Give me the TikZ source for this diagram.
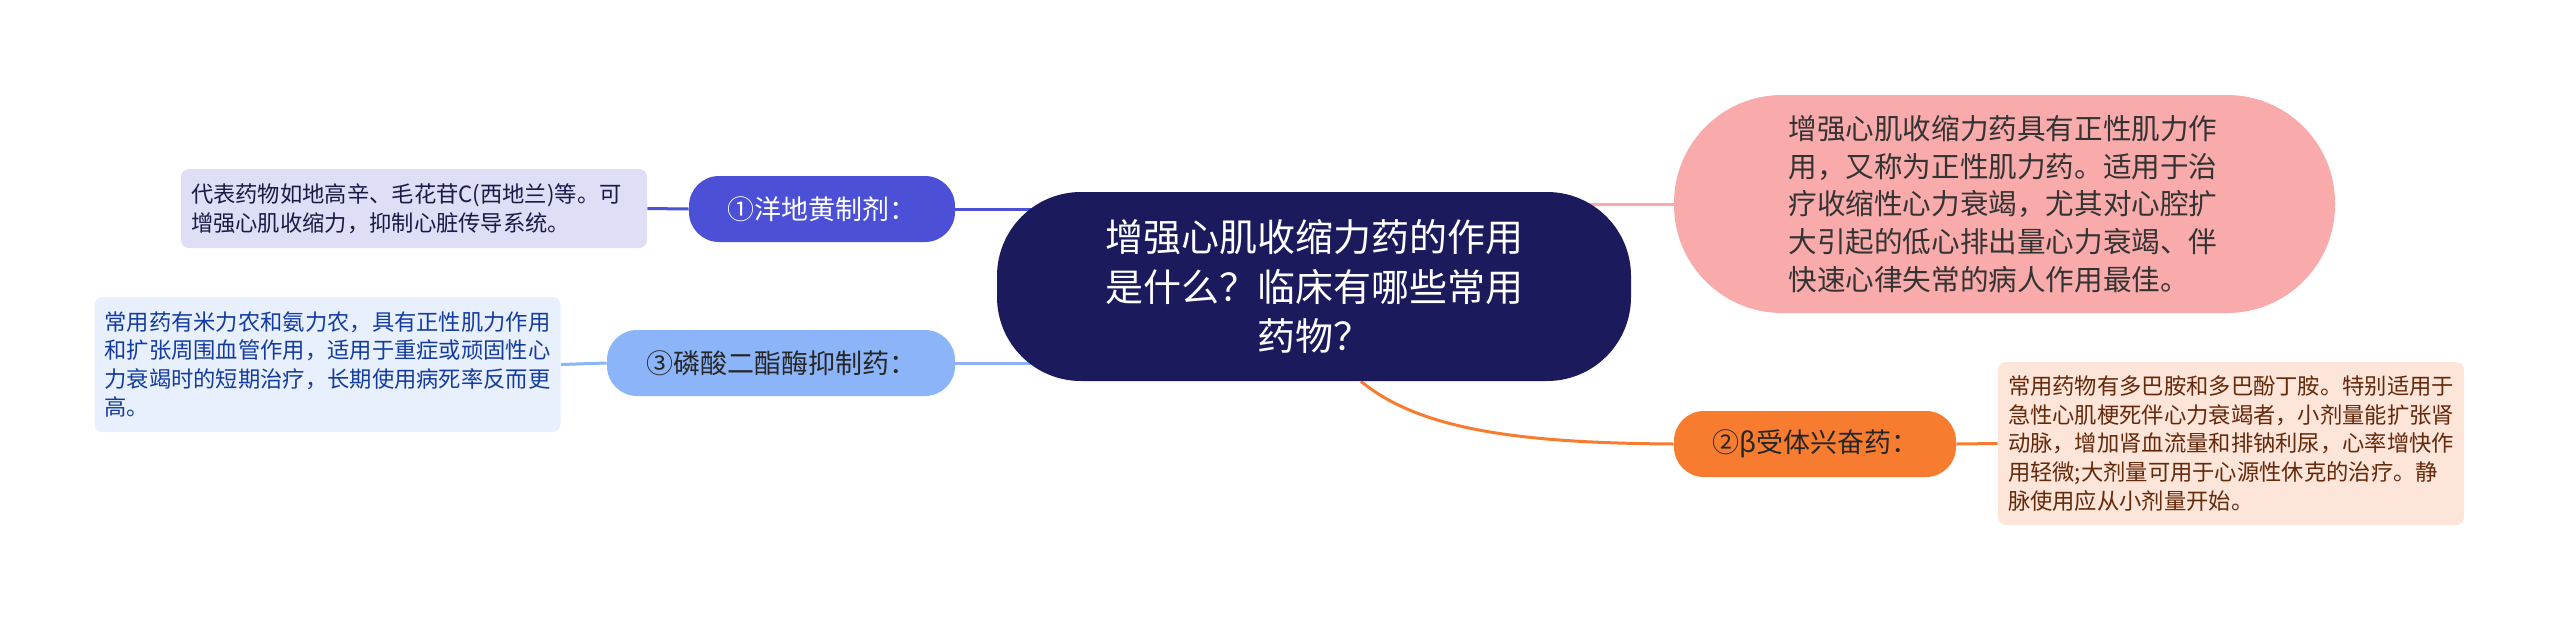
\documentclass[tikz,border=0pt]{standalone}
\usepackage{fontspec}
\setmainfont{Noto Sans CJK SC}
\usetikzlibrary{backgrounds}
\definecolor{hubc}{RGB}{27,26,92}
\definecolor{ansc}{RGB}{249,170,170}
\definecolor{onec}{RGB}{75,80,214}
\definecolor{onel}{RGB}{222,222,247}
\definecolor{twoc}{RGB}{247,124,48}
\definecolor{twol}{RGB}{253,229,217}
\definecolor{thrc}{RGB}{140,180,248}
\definecolor{thrl}{RGB}{232,240,253}
\definecolor{inkone}{RGB}{26,26,70}
\definecolor{inktwo}{RGB}{100,40,10}
\definecolor{inkthr}{RGB}{20,60,160}
\tikzset{hub/.style = {fill=hubc, text=white, rounded corners=42pt, minimum width=317pt,
        minimum height=94.5pt, align=center, font=\fontsize{19pt}{24.75pt}\selectfont},
    ans/.style = {fill=ansc, text=black!80, rounded corners=54pt, minimum width=330.5pt,
        minimum height=109pt, text width=216pt, align=left, font=\fontsize{14.3pt}{18.85pt}\selectfont},
    top/.style = {rounded corners=15pt, minimum height=33pt, inner sep=0pt,
        font=\fontsize{13.5pt}{16pt}\selectfont},
    leaf/.style = {rounded corners=4pt, text width=223pt, inner xsep=5pt, inner ysep=0pt,
        align=left, font=\fontsize{11.15pt}{14.3pt}\selectfont},
    link/.style = {line width=1.5pt}}

\begin{document}
\begin{tikzpicture}[x=0.5pt, y=-0.5pt]
        \useasboundingbox (0,0) rectangle (2560,622);
        \node[hub] (q) at (1314,286.5) {增强心肌收缩力药的作用\\是什么？临床有哪些常用\\药物？};
        \node[ans] (s) at (2004.5,204) {增强心肌收缩力药具有正性肌力作\\用，又称为正性肌力药。适用于治\\疗收缩性心力衰竭，尤其对心腔扩\\大引起的低心排出量心力衰竭、伴\\快速心律失常的病人作用最佳。};

        \node[top, fill=onec, text=white, minimum width=133pt] (t1) at (822,209) {①洋地黄制剂：};
        \node[top, fill=twoc, text=black!85, minimum width=141pt] (t2) at (1815,444) {②β受体兴奋药：};
        \node[top, fill=thrc, text=black!85, minimum width=174pt] (t3) at (781,363) {③磷酸二酯酶抑制药：};

        \node[leaf, fill=onel, text=inkone, minimum height=39.5pt] (d1) at (414,208.5) {代表药物如地高辛、毛花苷C(西地兰)等。可\\增强心肌收缩力，抑制心脏传导系统。};
        \node[leaf, fill=twol, text=inktwo, minimum height=81.5pt] (d2) at (2231,443.5) {常用药物有多巴胺和多巴酚丁胺。特别适用于\\急性心肌梗死伴心力衰竭者，小剂量能扩张肾\\动脉，增加肾血流量和排钠利尿，心率增快作\\用轻微;大剂量可用于心源性休克的治疗。静\\脉使用应从小剂量开始。};
        \node[leaf, fill=thrl, text=inkthr, minimum height=67.5pt] (d3) at (327.5,364.5) {常用药有米力农和氨力农，具有正性肌力作用\\和扩张周围血管作用，适用于重症或顽固性心\\力衰竭时的短期治疗，长期使用病死率反而更\\高。};

        \begin{scope}[on background layer]
        \draw [link, color=onec] (t1.east) -- ([xshift=30pt]q.west |- t1.east);
        \draw [link, color=thrc] (t3.east) -- ([xshift=30pt]q.west |- t3.east);
        \draw [link, color=ansc] ([xshift=-30pt]q.east |- s.west) -- (s.west);
        \draw [link, color=twoc] ([xshift=23.5pt]q.south) .. controls (1420,430) and (1520,443) .. (t2.west);
        \foreach \a/\b/\c in {t1/d1/onec, t3/d3/thrc} \draw [link, color=\c] (\a.west) -- (\b.east);
        \draw [link, color=twoc] (t2.east) -- (d2.west);
        \end{scope}
    \end{tikzpicture}
\end{document}
